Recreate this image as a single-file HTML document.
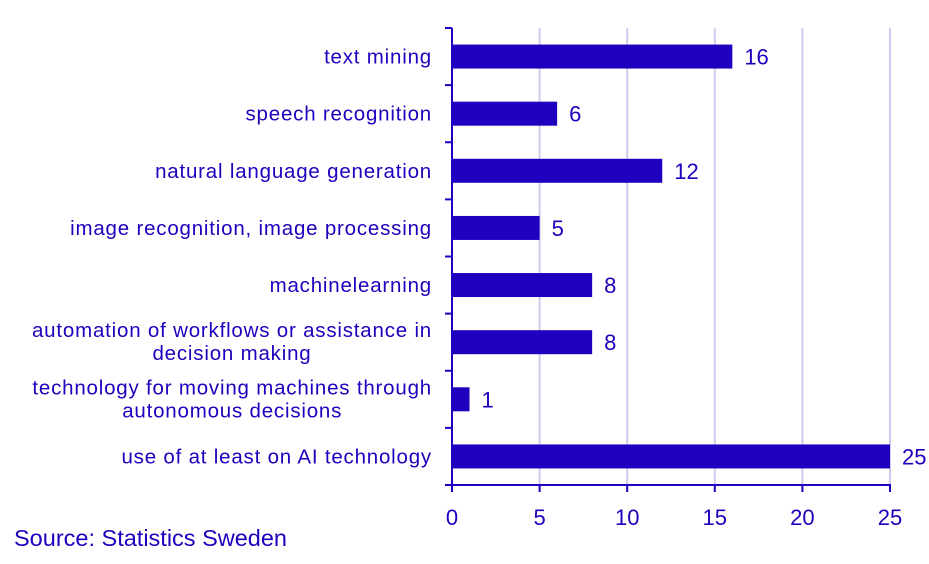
<!DOCTYPE html>
<html><head><meta charset="utf-8"><style>
body{margin:0;background:#fff;}
svg text{font-family:"Liberation Sans",sans-serif;fill:#1e00be;}
</style></head><body>
<svg width="929" height="559">
<g id="grid"></g><g id="bars"></g><g id="axes"></g>
<text x="14" y="546" font-size="23.5">Source: Statistics Sweden</text>
</svg>
<script>
const categories=[["text mining"],["speech recognition"],["natural language generation"],["image recognition, image processing"],["machinelearning"],["automation of workflows or assistance in","decision making"],["technology for moving machines through","autonomous decisions"],["use of at least on AI technology"]];
const values=[16,6,12,5,8,8,1,25];
const ticks=[0,5,10,15,20,25];
const C="#1e00be",NS="http://www.w3.org/2000/svg";
const x0=452,x1=890,yTop=28,yBot=485,band=(yBot-yTop)/categories.length;
const xs=v=>x0+(x1-x0)*v/25;
function mk(t,a,p){const e=document.createElementNS(NS,t);for(const k in a)e.setAttribute(k,a[k]);p.appendChild(e);return e;}
const g=document.getElementById('grid'),b=document.getElementById('bars'),ax=document.getElementById('axes');
ticks.forEach(t=>{
 if(t>0){const l=mk('line',{x1:xs(t),x2:xs(t),y1:yTop,y2:yBot,stroke:'#cfcbec','stroke-width':2},g);
 
 }
 const tk=mk('line',{x1:xs(t),x2:xs(t),y1:yBot,y2:yBot+7,stroke:C,'stroke-width':2},ax);
 
 
 const tx=mk('text',{x:xs(t),y:525,'font-size':22,'text-anchor':'middle'},ax);tx.textContent=t;
 
 
});
categories.forEach((c,i)=>{
 const cy=yTop+band*(i+0.5);
 const r=mk('rect',{x:x0,y:cy-12,width:xs(values[i])-x0,height:24,fill:C},b);
 
 
 const v=mk('text',{x:xs(values[i])+12,y:cy+8,'font-size':22},b);v.textContent=values[i];
 
 
 if(c.length==1){
  const lab=mk('text',{x:432,y:cy+7,'font-size':20.5,'letter-spacing':0.8,'text-anchor':'end'},ax);
  
  
  lab.textContent=c[0];
 } else {
  const l1=mk('text',{x:432,y:cy-5,'font-size':20.5,'letter-spacing':0.8,'text-anchor':'end'},ax);
  
  
  l1.textContent=c[0];
  const w=l1.getComputedTextLength();
  const l2=mk('text',{x:432-w/2,y:cy+18,'font-size':20.5,'letter-spacing':0.8,'text-anchor':'middle'},ax);
  
  
  l2.textContent=c[1];
 }
});
for(let i=0;i<=categories.length;i++){const y=yTop+band*i;
 const t=mk('line',{x1:x0-7,x2:x0,y1:y,y2:y,stroke:C,'stroke-width':2},ax);
 
 }
const ya=mk('line',{x1:x0,x2:x0,y1:yTop,y2:yBot+7,stroke:C,'stroke-width':2},ax);


const xa=mk('line',{x1:x0-7,x2:x1+1,y1:yBot,y2:yBot,stroke:C,'stroke-width':2},ax);


</script>
</body></html>
